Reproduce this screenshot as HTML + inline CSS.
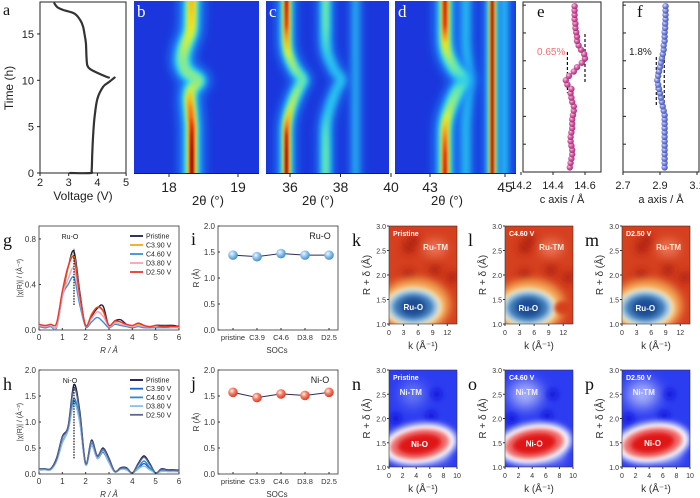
<!DOCTYPE html>
<html><head><meta charset="utf-8"><style>
html,body{margin:0;padding:0;background:#fff;}
svg{display:block;font-family:"Liberation Sans",sans-serif;}
.serif{font-family:"Liberation Serif",serif;}
</style></head><body>
<svg id="fig" width="700" height="498" viewBox="0 0 700 498" xmlns="http://www.w3.org/2000/svg">
<defs id="defs">
<filter id="b1" filterUnits="userSpaceOnUse" x="-20" y="-40" width="740" height="580"><feGaussianBlur stdDeviation="1"/></filter>
<filter id="b1.5" filterUnits="userSpaceOnUse" x="-20" y="-40" width="740" height="580"><feGaussianBlur stdDeviation="1.5"/></filter>
<filter id="b2" filterUnits="userSpaceOnUse" x="-20" y="-40" width="740" height="580"><feGaussianBlur stdDeviation="2"/></filter>
<filter id="b3" filterUnits="userSpaceOnUse" x="-20" y="-40" width="740" height="580"><feGaussianBlur stdDeviation="3"/></filter>
<filter id="b4" filterUnits="userSpaceOnUse" x="-20" y="-40" width="740" height="580"><feGaussianBlur stdDeviation="4"/></filter>
<filter id="b5" filterUnits="userSpaceOnUse" x="-20" y="-40" width="740" height="580"><feGaussianBlur stdDeviation="5"/></filter>
<filter id="b7" filterUnits="userSpaceOnUse" x="-20" y="-40" width="740" height="580"><feGaussianBlur stdDeviation="7"/></filter>
<radialGradient id="sphBlue" cx="0.38" cy="0.35" r="0.65"><stop offset="0" stop-color="#eef6ff"/><stop offset="0.5" stop-color="#8fc2ea"/><stop offset="1" stop-color="#4a8fc8"/></radialGradient>
<radialGradient id="sphRed" cx="0.38" cy="0.35" r="0.65"><stop offset="0" stop-color="#fff0e8"/><stop offset="0.5" stop-color="#f47a62"/><stop offset="1" stop-color="#d8402c"/></radialGradient>
<radialGradient id="sphPink" cx="0.38" cy="0.35" r="0.65"><stop offset="0" stop-color="#f8c8e4"/><stop offset="0.55" stop-color="#d0559e"/><stop offset="1" stop-color="#a83078"/></radialGradient>
<radialGradient id="sphLav" cx="0.38" cy="0.35" r="0.65"><stop offset="0" stop-color="#dfe4ff"/><stop offset="0.55" stop-color="#7484dc"/><stop offset="1" stop-color="#4a58b8"/></radialGradient>
<clipPath id="clipB"><rect x="134" y="1" width="125" height="172"/></clipPath>
<clipPath id="clipC"><rect x="266" y="1" width="123" height="172"/></clipPath>
<clipPath id="clipD"><rect x="395" y="1" width="121" height="172"/></clipPath>
<clipPath id="clipK"><rect x="389" y="226" width="68" height="98"/></clipPath>
<clipPath id="clipL"><rect x="505" y="226" width="68" height="98"/></clipPath>
<clipPath id="clipM"><rect x="622" y="226" width="68" height="98"/></clipPath>
<clipPath id="clipN"><rect x="389" y="370" width="68" height="97"/></clipPath>
<clipPath id="clipO"><rect x="505" y="370" width="68" height="97"/></clipPath>
<clipPath id="clipP"><rect x="622" y="370" width="68" height="97"/></clipPath>
</defs>
</svg>
<script>
// ---------------- data ----------------
const aTime=[0,0,0.3,2,4,6,8,9.3,9.8,10.3,10.3,10.4,10.8,11.2,11.6,12.5,14,15,15.8,16.5,17.2,17.6,17.9,18.3];
const aVolt=[3.05,3.75,3.8,3.82,3.85,3.9,4.0,4.2,4.4,4.6,4.4,4.3,4.0,3.75,3.65,3.62,3.6,3.55,3.5,3.4,3.2,2.8,2.6,2.5];
const xrdTimes=[-1,2,4,5,6,7,8,9,9.5,10,10.5,11,12,13,14,15,16,19.5];
const bPeak=[18.33,18.33,18.33,18.33,18.32,18.31,18.3,18.32,18.37,18.42,18.33,18.25,18.2,18.21,18.25,18.3,18.32,18.33];
const bInt=[1,1,0.95,0.9,0.85,0.8,0.7,0.55,0.5,0.45,0.45,0.45,0.45,0.5,0.55,0.6,0.65,0.72];
const cPeak1=[35.86,35.86,35.86,35.87,35.92,36.02,36.15,36.31,36.4,36.5,36.4,36.24,36.05,35.92,35.87,35.86,35.86,35.86];
const cInt1=[1,1,0.95,0.85,0.7,0.55,0.5,0.45,0.4,0.4,0.4,0.45,0.5,0.6,0.7,0.8,0.9,1];
const cPeak2=[37.41,37.41,37.41,37.42,37.47,37.57,37.69,37.84,37.94,38.03,37.94,37.78,37.6,37.47,37.42,37.41,37.41,37.41];
const cInt2=[0.4,0.4,0.38,0.35,0.32,0.3,0.3,0.28,0.28,0.28,0.28,0.28,0.3,0.32,0.35,0.38,0.4,0.42];
const cPeak3=[38.6,38.6,38.6,38.6,38.6,38.6,38.6,38.6,38.6,38.6,38.6,38.6,38.6,38.6,38.6,38.6,38.6,38.6];
const cInt3=[0.22,0.22,0.22,0.22,0.22,0.22,0.22,0.22,0.22,0.22,0.22,0.22,0.22,0.22,0.22,0.22,0.22,0.22];
const dPeak1=[43.4,43.4,43.4,43.41,43.45,43.53,43.63,43.75,43.83,43.9,43.83,43.7,43.55,43.45,43.41,43.4,43.4,43.4];
const dInt1=[0.95,0.9,0.8,0.7,0.6,0.5,0.45,0.4,0.35,0.3,0.35,0.4,0.45,0.55,0.65,0.8,0.9,0.95];
const dPeak2=[43.95,43.95,43.95,43.95,43.96,43.98,44.0,44.02,44.04,44.05,44.04,44.02,44.0,43.97,43.95,43.95,43.95,43.95];
const dInt2=[0.25,0.25,0.25,0.25,0.25,0.25,0.25,0.25,0.25,0.25,0.25,0.25,0.25,0.25,0.25,0.25,0.25,0.25];
const dPeak3=[44.66,44.66,44.66,44.66,44.66,44.66,44.66,44.66,44.66,44.66,44.66,44.66,44.66,44.66,44.66,44.66,44.66,44.66];
const dInt3=[1,1,1,1,1,1,1,1,1,1,1,1,1,1,1,1,1,1];
const dPeak4=[44.97,44.97,44.97,44.97,44.97,44.97,44.97,44.97,44.97,44.97,44.97,44.97,44.97,44.97,44.97,44.97,44.97,44.97];
const dInt4=[0.28,0.28,0.28,0.28,0.28,0.28,0.28,0.28,0.28,0.28,0.28,0.28,0.28,0.28,0.28,0.28,0.28,0.28];
const latTimes=[0.5,0.97,1.44,1.91,2.38,2.85,3.32,3.79,4.26,4.73,5.2,5.67,6.14,6.61,7.08,7.55,8.02,8.49,8.96,9.43,9.9,10.37,10.84,11.31,11.78,12.25,12.72,13.19,13.66,14.13,14.6,15.07,15.54,16.01,16.48,16.95,17.42,17.89];
const cAxis=[14.505,14.51,14.515,14.52,14.52,14.515,14.51,14.51,14.515,14.52,14.52,14.52,14.525,14.53,14.53,14.52,14.515,14.51,14.515,14.49,14.48,14.5,14.53,14.55,14.58,14.6,14.595,14.575,14.56,14.55,14.55,14.545,14.54,14.54,14.535,14.535,14.535,14.535];
const aAxis=[2.925,2.925,2.925,2.925,2.925,2.925,2.925,2.925,2.925,2.925,2.925,2.925,2.925,2.92,2.915,2.91,2.905,2.9,2.895,2.89,2.885,2.89,2.895,2.9,2.905,2.91,2.915,2.92,2.92,2.925,2.925,2.925,2.928,2.928,2.93,2.93,2.93,2.93];
const rGrid=[0,0.25,0.5,0.75,1,1.25,1.5,1.75,2,2.25,2.5,2.75,3,3.25,3.5,3.75,4,4.25,4.5,4.75,5,5.25,5.5,5.75,6];
const ruLabels=['Pristine','C3.90 V','C4.60 V','D3.80 V','D2.50 V'];
const ruPristine=[0.05,0.02,0.04,0.03,0.3,0.55,0.69,0.33,0.03,0.12,0.19,0.21,0.03,0.08,0.09,0.05,0.03,0.06,0.04,0.02,0.04,0.04,0.04,0.04,0.03];
const ruC39=[0.04,0.03,0.03,0.04,0.32,0.55,0.65,0.3,0.04,0.14,0.2,0.16,0.03,0.07,0.07,0.04,0.03,0.05,0.03,0.03,0.03,0.03,0.03,0.03,0.02];
const ruC46=[0.03,0.02,0.03,0.02,0.3,0.4,0.46,0.22,0.03,0.07,0.11,0.07,0.02,0.05,0.04,0.03,0.02,0.03,0.02,0.02,0.02,0.02,0.02,0.02,0.02];
const ruD38=[0.04,0.03,0.04,0.03,0.3,0.45,0.54,0.26,0.04,0.1,0.16,0.12,0.03,0.06,0.05,0.04,0.03,0.04,0.03,0.03,0.03,0.03,0.03,0.02,0.02];
const ruD25=[0.05,0.04,0.05,0.06,0.34,0.56,0.63,0.3,0.04,0.13,0.2,0.17,0.04,0.08,0.07,0.05,0.04,0.06,0.04,0.03,0.04,0.03,0.03,0.03,0.03];
const niPristine=[0.1,0.1,0.1,0.3,0.72,0.92,1.72,1.2,0.2,0.65,0.35,0.5,0.3,0.05,0.12,0.12,0.02,0.2,0.35,0.2,0.02,0.1,0.08,0.08,0.07];
const niC39=[0.08,0.09,0.09,0.25,0.6,0.85,1.4,1.0,0.18,0.55,0.3,0.42,0.22,0.04,0.1,0.08,0.02,0.1,0.2,0.1,0.02,0.06,0.05,0.05,0.05];
const niC46=[0.08,0.09,0.08,0.25,0.62,0.86,1.45,1.02,0.18,0.58,0.32,0.45,0.25,0.05,0.1,0.09,0.02,0.12,0.25,0.12,0.02,0.07,0.06,0.06,0.05];
const niD38=[0.07,0.08,0.08,0.24,0.6,0.84,1.35,0.98,0.18,0.56,0.3,0.44,0.22,0.04,0.09,0.08,0.02,0.1,0.15,0.08,0.02,0.05,0.05,0.05,0.05];
const niD25=[0.1,0.1,0.1,0.28,0.7,0.9,1.65,1.15,0.2,0.63,0.34,0.48,0.28,0.05,0.11,0.11,0.02,0.18,0.32,0.18,0.02,0.09,0.07,0.07,0.06];
const socs=['pristine','C3.9','C4.6','D3.8','D2.5'];
const ruO_R=[1.44,1.41,1.47,1.44,1.44];
const niO_R=[1.57,1.47,1.54,1.51,1.57];
const ruBlobK=[5.0,4.8,4.8];
const ruBlobR=[1.35,1.33,1.33];
const niBlobK=[4.5,4.3,4.5];
const niBlobR=[1.47,1.48,1.5];

// ---------------- helpers ----------------
const NS='http://www.w3.org/2000/svg';
const svg=document.getElementById('fig');
const defs=document.getElementById('defs');
function mk(tag,parent,attrs){const e=document.createElementNS(NS,tag);for(const k in attrs)e.setAttribute(k,attrs[k]);(parent||svg).appendChild(e);return e;}
function txt(parent,x,y,s,attrs){const e=mk('text',parent,Object.assign({x:x,y:y},attrs||{}));e.textContent=s;return e;}
function clamp(v){return Math.max(0,Math.min(1,v));}
function smooth(p){let d='M'+p[0][0]+','+p[0][1];for(let i=0;i<p.length-1;i++){const p0=p[i-1]||p[i],p1=p[i],p2=p[i+1],p3=p[i+2]||p2;const c1=[p1[0]+(p2[0]-p0[0])/6,p1[1]+(p2[1]-p0[1])/6],c2=[p2[0]-(p3[0]-p1[0])/6,p2[1]-(p3[1]-p1[1])/6];d+=' C'+c1[0]+','+c1[1]+' '+c2[0]+','+c2[1]+' '+p2[0]+','+p2[1];}return d;}
function group(name){const g=mk('g',svg,{});


return g;}
const ty=t=>173-t*9.27;

// ---------------- panel a ----------------
(function(){
const g=group('panel-a-voltage-profile');
const ax=v=>40+(v-2)*28.7;
mk('rect',g,{x:40,y:2,width:86,height:171,fill:'none',stroke:'#222','stroke-width':1});
const segs=[[0,10],[10,aTime.length]];
segs.forEach((s,si)=>{const pts=[];for(let i=s[0];i<s[1];i++)pts.push([ax(aVolt[i]),ty(aTime[i])]);
const p=mk('path',g,{d:smooth(pts),fill:'none',stroke:'#333','stroke-width':2.2,'stroke-linecap':'round'});

});
[2,3,4,5].forEach(v=>{mk('line',g,{x1:ax(v),x2:ax(v),y1:173,y2:176,stroke:'#222'});txt(g,ax(v),186,String(v),{'font-size':11,'text-anchor':'middle',fill:'#222'});});
[0,5,10,15].forEach(v=>{mk('line',g,{x1:37,x2:40,y1:ty(v),y2:ty(v),stroke:'#222'});txt(g,34,ty(v)+4,String(v),{'font-size':11,'text-anchor':'end',fill:'#222'});});
txt(g,83,200,'Voltage (V)',{'font-size':12,'text-anchor':'middle',fill:'#222'});
txt(g,13,88,'Time (h)',{'font-size':12,'text-anchor':'middle',fill:'#222',transform:'rotate(-90 13 88)'});
txt(g,3,15,'a',{'font-size':16,'class':'serif',fill:'#111'});
})();

// ---------------- XRD maps ----------------
let gid=0;
function band(g,xs,peaks,ints,w,name){
 const pts=xrdTimes.map((t,i)=>[xs(peaks[i]),ty(t)]);
 const d=smooth(pts);
 const layers=[['#1f8af8',3.2,v=>Math.min(0.9,v*2.5),'b5'],['#2ae6f0',1.9,v=>Math.min(1,v*2.4),'b3'],['#f0f020',1.2,v=>clamp((v-0.3)*3),'b2'],['#ff3a10',0.7,v=>clamp((v-0.62)*3.5),'b1.5'],['#7a0000',0.35,v=>clamp((v-0.85)*6),'b1']];
 const bg=mk('g',g,{});
 
 
 layers.forEach(L=>{const id='bg'+(gid++);const t0=xrdTimes[0],tN=xrdTimes[xrdTimes.length-1];
  const lg=mk('linearGradient',defs,{id:id,gradientUnits:'userSpaceOnUse',x1:0,x2:0,y1:ty(t0),y2:ty(tN)});
  xrdTimes.forEach((t,i)=>mk('stop',lg,{offset:(t-t0)/(tN-t0),'stop-color':L[0],'stop-opacity':L[2](ints[i])}));
  mk('path',bg,{d:d,fill:'none',stroke:'url(#'+id+')','stroke-width':w*L[1],filter:'url(#'+L[3]+')'});});
}
function xrdPanel(name,clip,x0,x1,xs,ticks,letter,bands,labelX){
 const g=group(name);
 const inner=mk('g',g,{'clip-path':'url(#'+clip+')'});
 mk('rect',inner,{x:x0,y:1,width:x1-x0,height:172,fill:'#1a36dc'});
 bands.forEach(b=>band(inner,xs,b[0],b[1],b[2],b[3]));
 mk('line',g,{x1:x0,x2:x1,y1:173.5,y2:173.5,stroke:'#222','stroke-width':1});
 ticks.forEach(v=>{mk('line',g,{x1:xs(v),x2:xs(v),y1:173,y2:177,stroke:'#222'});txt(g,xs(v),192,String(v),{'font-size':14,'text-anchor':'middle',fill:'#222'});});
 txt(g,x0+3,17,letter,{'font-size':17,'class':'serif',fill:'#fff'});
 if(labelX)txt(g,labelX,205,'2θ (°)',{'font-size':13,'text-anchor':'middle',fill:'#222'});
}
xrdPanel('panel-b-xrd-map','clipB',134,259,v=>169+(v-18)*69,[18,19],'b',[[bPeak,bInt,8,'peak-003']],208);
xrdPanel('panel-c-xrd-map','clipC',266,389,v=>290+(v-36)*25.25,[36,38,40],'c',[[cPeak3,cInt3,4,'peak-line-3'],[cPeak2,cInt2,5,'peak-2'],[cPeak1,cInt1,6,'peak-1']],318);
xrdPanel('panel-d-xrd-map','clipD',395,516,v=>430+(v-43)*37.5,[43,45],'d',[[dPeak2,dInt2,5,'peak-faint'],[dPeak4,dInt4,4,'peak-collector-2'],[dPeak1,dInt1,7,'peak-1'],[dPeak3,dInt3,5,'peak-collector']],447);

// ---------------- e / f ----------------
function latPanel(name,x0,x1,xs,vals,ticks,letter,fillId,lineCol,label){
 const g=group(name);
 mk('rect',g,{x:x0,y:2,width:x1-x0,height:170,fill:'#fff',stroke:'#222','stroke-width':1});
 for(let t=0;t<=18;t+=3)mk('line',g,{x1:x0,x2:x0+3,y1:ty(t)-1,y2:ty(t)-1,stroke:'#222'});
 ticks.forEach(v=>{mk('line',g,{x1:xs(v),x2:xs(v),y1:172,y2:175,stroke:'#222'});txt(g,xs(v),189,v.toFixed(1),{'font-size':11,'text-anchor':'middle',fill:'#222'});});
 txt(g,(x0+x1)/2,203,label,{'font-size':11,'text-anchor':'middle',fill:'#222'});
 txt(g,x0+14,17,letter,{'font-size':17,'class':'serif',fill:'#111'});
 return g;
}
(function(){
 const ex=v=>521+(v-14.2)*160;
 const g=latPanel('panel-e-c-axis',523,601,ex,cAxis,[14.2,14.4,14.6],'e','sphPink','#c04080','c axis / Å');
 const dl=mk('g',g,{stroke:'#111','stroke-width':1.2,'stroke-dasharray':'3,2'});
 mk('line',dl,{x1:ex(14.49),x2:ex(14.49),y1:52,y2:93});
 mk('line',dl,{x1:ex(14.6),x2:ex(14.6),y1:34,y2:84});
 txt(g,537,55,'0.65%',{'font-size':10,fill:'#f07070'});
 const pl=mk('polyline',g,{points:latTimes.map((t,i)=>ex(cAxis[i])+','+(ty(t)-1)).join(' '),fill:'none',stroke:'#c04080','stroke-width':0.8});
 
 
 latTimes.forEach((t,i)=>{const c=mk('circle',g,{cx:ex(cAxis[i]),cy:ty(t)-1,r:3.2,fill:'url(#sphPink)'});
 
 });
})();
(function(){
 const fx=v=>623+(v-2.7)*185;
 const g=latPanel('panel-f-a-axis',623,699,fx,aAxis,[2.7,2.9,3.1],'f','sphLav','#4050b0','a axis / Å');
 const dl=mk('g',g,{stroke:'#111','stroke-width':1.2,'stroke-dasharray':'3,2'});
 mk('line',dl,{x1:fx(2.88),x2:fx(2.88),y1:57,y2:106});
 mk('line',dl,{x1:fx(2.923),x2:fx(2.923),y1:45,y2:170});
 txt(g,629,55,'1.8%',{'font-size':10,fill:'#222'});
 const pl=mk('polyline',g,{points:latTimes.map((t,i)=>fx(aAxis[i])+','+(ty(t)-1)).join(' '),fill:'none',stroke:'#4050b0','stroke-width':0.8});
 
 
 latTimes.forEach((t,i)=>{const c=mk('circle',g,{cx:fx(aAxis[i]),cy:ty(t)-1,r:3.2,fill:'url(#sphLav)'});
 
 });
})();

// ---------------- EXAFS g / h ----------------
function exafs(name,top,bot,ymax,yticks,series,colors,peakLabel,letter,legY,legDy,dashTo,ylab,fmt){
 const g=group(name);
 const gx=r=>39+r*23.33, gy=v=>bot-v*(bot-top)/ymax;
 mk('rect',g,{x:39,y:top,width:140,height:bot-top,fill:'#fff',stroke:'#333','stroke-width':0.8});
 series.forEach((s,si)=>{const p=mk('path',g,{d:smooth(rGrid.map((r,i)=>[gx(r),gy(s[i])])),fill:'none',stroke:colors[si],'stroke-width':1.4});
 
 });
 mk('line',g,{x1:gx(1.5),x2:gx(1.5),y1:gy(dashTo[0]),y2:gy(dashTo[1]),stroke:'#111','stroke-width':1.2,'stroke-dasharray':'1.5,1.2'});
 [0,1,2,3,4,5,6].forEach(v=>{mk('line',g,{x1:gx(v),x2:gx(v),y1:bot,y2:bot-2,stroke:'#333'});txt(g,gx(v),bot+10,String(v),{'font-size':8,'text-anchor':'middle',fill:'#333'});});
 yticks.forEach(v=>{mk('line',g,{x1:39,x2:41,y1:gy(v),y2:gy(v),stroke:'#333'});txt(g,36,gy(v)+3,fmt(v),{'font-size':8,'text-anchor':'end',fill:'#333'});});
 txt(g,70,top+13,peakLabel,{'font-size':7,'text-anchor':'middle',fill:'#222'});
 const lg=mk('g',g,{});
 
 
 ruLabels.forEach((l,i)=>{const y=legY+i*legDy;mk('line',lg,{x1:130,x2:143,y1:y,y2:y,stroke:colors[i],'stroke-width':1.8});txt(lg,146,y+2.5,l,{'font-size':7,fill:'#222'});});
 txt(g,109,bot+23,'R / Å',{'font-size':8,'text-anchor':'middle','font-style':'italic',fill:'#333'});
 const cy=(top+bot)/2;
 txt(g,22,cy,ylab,{'font-size':7,'text-anchor':'middle',fill:'#333',transform:'rotate(-90 22 '+cy+')'});
 txt(g,3,top+20,letter,{'font-size':18,'class':'serif',fill:'#111'});
}
exafs('panel-g-ru-exafs',226,330,0.914,[0,0.4,0.8],[ruPristine,ruC39,ruC46,ruD38,ruD25],['#1c1c4c','#f5a623','#3a90d8','#f7a0b8','#e8392a'],'Ru-O','g',236,9,[0.22,0.72],'|χ(R)| / (Å⁻³)',v=>v.toFixed(1));
exafs('panel-h-ni-exafs',370,474,2.0,[0,0.5,1,1.5,2],[niPristine,niC39,niC46,niD38,niD25],['#15154a','#1f5fd6','#2a8fd0','#8cc0ee','#5a6a90'],'Ni-O','h',380,8.7,[0.3,1.75],'|χ(R)| / (Å⁻³)',v=>v.toFixed(1));

// ---------------- bond length i / j ----------------
function bondPanel(name,top,bot,vals,fillId,label,letter){
 const g=group(name);
 const bx=i=>233+i*24, by=v=>bot-v*(bot-top)/2;
 mk('rect',g,{x:218,y:top,width:120,height:bot-top,fill:'#fff',stroke:'#333','stroke-width':0.8});
 [0,0.5,1,1.5,2].forEach(v=>{mk('line',g,{x1:218,x2:220,y1:by(v),y2:by(v),stroke:'#333'});txt(g,215,by(v)+3,v.toFixed(1),{'font-size':8,'text-anchor':'end',fill:'#333'});});
 socs.forEach((s,i)=>{mk('line',g,{x1:bx(i),x2:bx(i),y1:bot,y2:bot-2,stroke:'#333'});txt(g,bx(i),bot+10,s,{'font-size':7.5,'text-anchor':'middle',fill:'#333'});});
 const pl=mk('polyline',g,{points:vals.map((v,i)=>bx(i)+','+by(v)).join(' '),fill:'none',stroke:'#2a2a5a','stroke-width':1});
 
 
 vals.forEach((v,i)=>{const c=mk('circle',g,{cx:bx(i),cy:by(v),r:4.8,fill:'url(#'+fillId+')'});
 
 });
 txt(g,320,top+13,label,{'font-size':9,'text-anchor':'middle',fill:'#222'});
 txt(g,277,bot+23,'SOCs',{'font-size':8,'text-anchor':'middle',fill:'#333'});
 const cy=(top+bot)/2;
 txt(g,199,cy,'R (Å)',{'font-size':8,'text-anchor':'middle',fill:'#333',transform:'rotate(-90 199 '+cy+')'});
 txt(g,191,top+19,letter,{'font-size':18,'class':'serif',fill:'#111'});
}
bondPanel('panel-i-ru-o-bond',226,330,ruO_R,'sphBlue','Ru-O','i');
bondPanel('panel-j-ni-o-bond',370,474,niO_R,'sphRed','Ni-O','j');

// ---------------- wavelet maps ----------------
function wtPanel(name,clip,x0,top,bot,kmax,kticks,cond,blobK,blobR,letter,isRu,variant){
 const g=group(name);
 const kx=k=>x0+k*68/kmax, ry=r=>bot-(r-1)*(bot-top)/2;
 const inner=mk('g',g,{'clip-path':'url(#'+clip+')'});
 const mapG=mk('g',inner,{});
 
 
 const cx=kx(blobK), cy=ry(blobR);
 if(isRu){
  mk('rect',mapG,{x:x0,y:top,width:68,height:bot-top,fill:'#d5401f'});
  [[4,2.55],[4,2.0],[9.5,2.1],[13,1.95],[5,2.7]].forEach(p=>mk('circle',mapG,{cx:kx(p[0]),cy:ry(p[1]),r:6,fill:'#a81a0e',opacity:0.8,filter:'url(#b4)'}));
  mk('ellipse',mapG,{cx:kx(9.5),cy:ry(2.55),rx:12,ry:9,fill:'#f08060',opacity:0.8,filter:'url(#b5)'});
  mk('ellipse',mapG,{cx:cx+2,cy:cy-2,rx:35,ry:27,fill:'#f3a050',filter:'url(#b4)'});
  mk('ellipse',mapG,{cx:cx,cy:cy,rx:29,ry:20,fill:'#fbeec0',filter:'url(#b3)'});
  mk('ellipse',mapG,{cx:cx,cy:cy,rx:25,ry:17,fill:'#9cc4e4',filter:'url(#b2)'});
  mk('ellipse',mapG,{cx:cx,cy:cy,rx:20,ry:13,fill:'#3f7ab8',filter:'url(#b2)'});
  mk('ellipse',mapG,{cx:cx,cy:cy,rx:13,ry:9,fill:'#1f4e94',filter:'url(#b2)'});
  if(variant===1)mk('ellipse',mapG,{cx:kx(12),cy:ry(1.33),rx:9,ry:7,fill:'#d5401f',filter:'url(#b2)'});
  txt(g,cx,cy+3,'Ru-O',{'font-size':8,'font-weight':'bold','text-anchor':'middle',fill:'#fff'});
  txt(g,kx(9.6),ry(2.57)+3,'Ru-TM',{'font-size':8,'font-weight':'bold','text-anchor':'middle',fill:'#fde8d8'});
 }else{
  mk('rect',mapG,{x:x0,y:top,width:68,height:bot-top,fill:'#2c3cf0'});
  if(variant>0)mk('ellipse',mapG,{cx:kx(3),cy:ry(2.5),rx:16,ry:14,fill:'#b8c0fa',opacity:0.9,filter:'url(#b7)'});
  else mk('ellipse',mapG,{cx:kx(3.5),cy:ry(2.5),rx:12,ry:12,fill:'#8090f4',opacity:0.8,filter:'url(#b7)'});
  [[7,2.5],[6.2,2.05],[1,2.0]].forEach(p=>mk('circle',mapG,{cx:kx(p[0]),cy:ry(p[1]),r:5,fill:'#1010d8',opacity:0.85,filter:'url(#b3)'}));
  mk('ellipse',mapG,{cx:kx(7),cy:ry(1.2),rx:14,ry:8,fill:'#8898f4',opacity:0.6,filter:'url(#b4)'});
  mk('ellipse',mapG,{cx:cx,cy:cy,rx:38,ry:21,fill:'#e0e4ff',transform:'rotate(-8 '+cx+' '+cy+')',filter:'url(#b3)'});
  mk('ellipse',mapG,{cx:cx,cy:cy,rx:33,ry:17,fill:'#fff',transform:'rotate(-8 '+cx+' '+cy+')',filter:'url(#b1.5)'});
  mk('ellipse',mapG,{cx:cx,cy:cy,rx:30,ry:15,fill:'#f07070',transform:'rotate(-8 '+cx+' '+cy+')',filter:'url(#b2)'});
  mk('ellipse',mapG,{cx:cx,cy:cy,rx:22,ry:10,fill:'#e01818',transform:'rotate(-8 '+cx+' '+cy+')',filter:'url(#b2)'});
  txt(g,cx,cy+3,'Ni-O',{'font-size':8,'font-weight':'bold','text-anchor':'middle',fill:'#fff'});
  txt(g,kx(3.2),ry(2.55)+3,'Ni-TM',{'font-size':8,'font-weight':'bold','text-anchor':'middle',fill:'#eef'});
 }
 txt(g,x0+4,top+10,cond,{'font-size':7,'font-weight':'bold',fill:'#fff'});
 mk('rect',g,{x:x0,y:top,width:68,height:bot-top,fill:'none',stroke:'#333','stroke-width':0.6});
 [1,1.5,2,2.5,3].forEach(v=>{mk('line',g,{x1:x0-2,x2:x0,y1:ry(v),y2:ry(v),stroke:'#333'});txt(g,x0-3,ry(v)+3,v.toFixed(1),{'font-size':7,'text-anchor':'end',fill:'#333'});});
 kticks.forEach(v=>{mk('line',g,{x1:kx(v),x2:kx(v),y1:bot,y2:bot+2,stroke:'#333'});txt(g,kx(v),bot+11,String(v),{'font-size':7,'text-anchor':'middle',fill:'#333'});});
 txt(g,x0+34,bot+25,'k (Å⁻¹)',{'font-size':10,'text-anchor':'middle',fill:'#333'});
 const cy2=(top+bot)/2;
 txt(g,x0-19,cy2,'R + δ (Å)',{'font-size':10,'text-anchor':'middle',fill:'#333',transform:'rotate(-90 '+(x0-19)+' '+cy2+')'});
 txt(g,x0-37,top+20,letter,{'font-size':18,'class':'serif',fill:'#111'});
}
wtPanel('panel-k-wt-ru-pristine','clipK',389,226,324,14,[0,3,6,9,12],'Pristine',ruBlobK[0],ruBlobR[0],'k',true,0);
wtPanel('panel-l-wt-ru-c460','clipL',505,226,324,14,[0,3,6,9,12],'C4.60 V',ruBlobK[1],ruBlobR[1],'l',true,1);
wtPanel('panel-m-wt-ru-d250','clipM',622,226,324,14,[0,3,6,9,12],'D2.50 V',ruBlobK[2],ruBlobR[2],'m',true,2);
wtPanel('panel-n-wt-ni-pristine','clipN',389,370,467,10,[0,2,4,6,8,10],'Pristine',niBlobK[0],niBlobR[0],'n',false,0);
wtPanel('panel-o-wt-ni-c460','clipO',505,370,467,10,[0,2,4,6,8,10],'C4.60 V',niBlobK[1],niBlobR[1],'o',false,1);
wtPanel('panel-p-wt-ni-d250','clipP',622,370,467,10,[0,2,4,6,8,10],'D2.50 V',niBlobK[2],niBlobR[2],'p',false,2);
</script>
</body></html>
